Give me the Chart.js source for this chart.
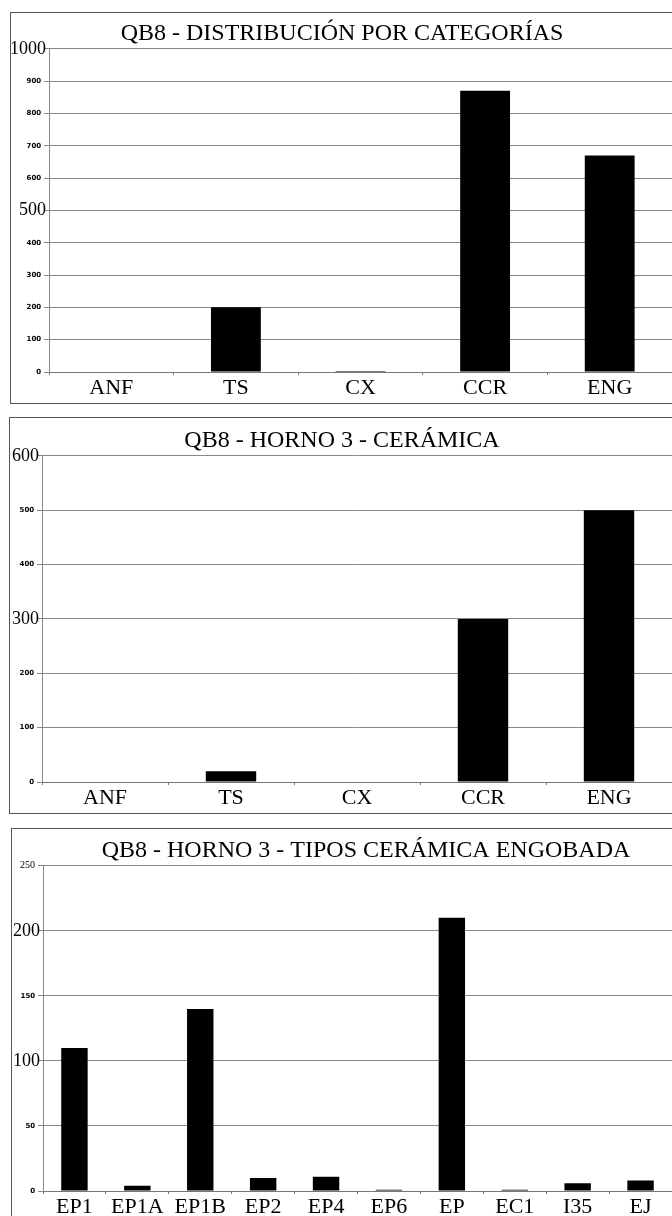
<!DOCTYPE html>
<html>
<head>
<meta charset="utf-8">
<script src="https://cdn.jsdelivr.net/npm/chart.js@4.4.1/dist/chart.umd.min.js"></script>
<style>
  body { margin: 0; background: #fff; width: 672px; height: 1216px; overflow: hidden; position: relative; }
  .panel { position: absolute; border: 1px solid #555; box-sizing: border-box; }
  canvas { position: absolute; }
</style>
</head>
<body>
<div class="panel" style="left:10px; top:12px; width:700px; height:392px;"></div>
<div class="panel" style="left:9px; top:417px; width:700px; height:397px;"></div>
<div class="panel" style="left:11px; top:828px; width:700px; height:420px;"></div>

<canvas id="chart1" style="left:0px; top:13px; width:672px; height:390px;"></canvas>
<canvas id="chart2" style="left:0px; top:418px; width:672px; height:395px;"></canvas>
<canvas id="chart3" style="left:0px; top:829px; width:672px; height:387px;"></canvas>

<script>
// panel 1
const title1 = 'QB8 - DISTRIBUCIÓN POR CATEGORÍAS'
const categories1 = ['ANF', 'TS', 'CX', 'CCR', 'ENG']
const values1 = [0, 200, 3, 870, 670]
const yMax1 = 1000
const yStep1 = 100
const bigTicks1 = [1000, 500]

// panel 2
const title2 = 'QB8 - HORNO 3 - CERÁMICA'
const categories2 = ['ANF', 'TS', 'CX', 'CCR', 'ENG']
const values2 = [0, 20, 0, 300, 500]
const yMax2 = 600
const yStep2 = 100
const bigTicks2 = [600, 300]

// panel 3
const title3 = 'QB8 - HORNO 3 - TIPOS CERÁMICA ENGOBADA'
const categories3 = ['EP1', 'EP1A', 'EP1B', 'EP2', 'EP4', 'EP6', 'EP', 'EC1', 'I35', 'EJ']
const values3 = [110, 4, 140, 10, 11, 1, 210, 1, 6, 8]
const yMax3 = 250
const yStep3 = 50
const bigTicks3 = [200, 100]
const serifSmallTicks3 = [250]

const serif = '"Liberation Serif", "Times New Roman", serif'

function makeChart(id, title, labels, data, yMax, yStep, bigTicks, serifSmall, cfg) {
  return new Chart(document.getElementById(id), {
    type: 'bar',
    data: {
      labels: labels,
      datasets: [{
        data: data,
        backgroundColor: '#000',
        borderWidth: 0,
        categoryPercentage: 1,
        barPercentage: cfg.barPct
      }]
    },
    options: {
      responsive: false,
      animation: false,
      layout: { padding: 0 },
      plugins: {
        legend: { display: false },
        tooltip: { enabled: false },
        title: {
          display: true,
          // leading blanks push the centred title a bit to the right, like the original
          text: '\u00a0'.repeat(cfg.titleShift) + title,
          color: '#000',
          font: { family: serif, size: 24, weight: 'normal' },
          padding: { top: cfg.titleTop, bottom: cfg.titleBottom }
        }
      },
      scales: {
        x: {
          grid: { drawOnChartArea: false, drawTicks: true, tickLength: 3, color: '#777' },
          border: { display: true, color: '#777' },
          ticks: {
            color: '#000',
            padding: 0,
            font: { family: serif, size: 22 },
            maxRotation: 0,
            autoSkip: false
          },
          afterFit: (scale) => { scale.height = cfg.xHeight }
        },
        y: {
          min: 0,
          max: yMax,
          grid: { color: '#888', tickLength: 5 },
          border: { display: true, color: '#888' },
          ticks: {
            stepSize: yStep,
            color: '#000',
            padding: -2,
            // big labels sit on the tick mark, small ones leave a gap (trailing spaces)
            callback: (v) => bigTicks.includes(v) ? String(v) : String(v) + '  ',
            font: (ctx) => {
              const v = ctx.tick ? ctx.tick.value : 0
              if (bigTicks.includes(v)) return { family: serif, size: 18 }
              if (serifSmall.includes(v)) return { family: serif, size: 10 }
              return { family: '"DejaVu Sans", sans-serif', size: 7, weight: 'bold' }
            }
          },
          afterFit: (scale) => { scale.width = cfg.yWidth }
        }
      }
    }
  })
}

makeChart('chart1', title1, categories1, values1, yMax1, yStep1, bigTicks1, [],
  { barPct: 0.4, titleTop: 6, titleBottom: 1, titleShift: 2, xHeight: 31, yWidth: 49 })
makeChart('chart2', title2, categories2, values2, yMax2, yStep2, bigTicks2, [],
  { barPct: 0.4, titleTop: 8, titleBottom: 1, titleShift: 2, xHeight: 31, yWidth: 42 })
makeChart('chart3', title3, categories3, values3, yMax3, yStep3, bigTicks3, serifSmallTicks3,
  { barPct: 0.42, titleTop: 7, titleBottom: 1, titleShift: 10, xHeight: 25, yWidth: 43 })
</script>
</body>
</html>
